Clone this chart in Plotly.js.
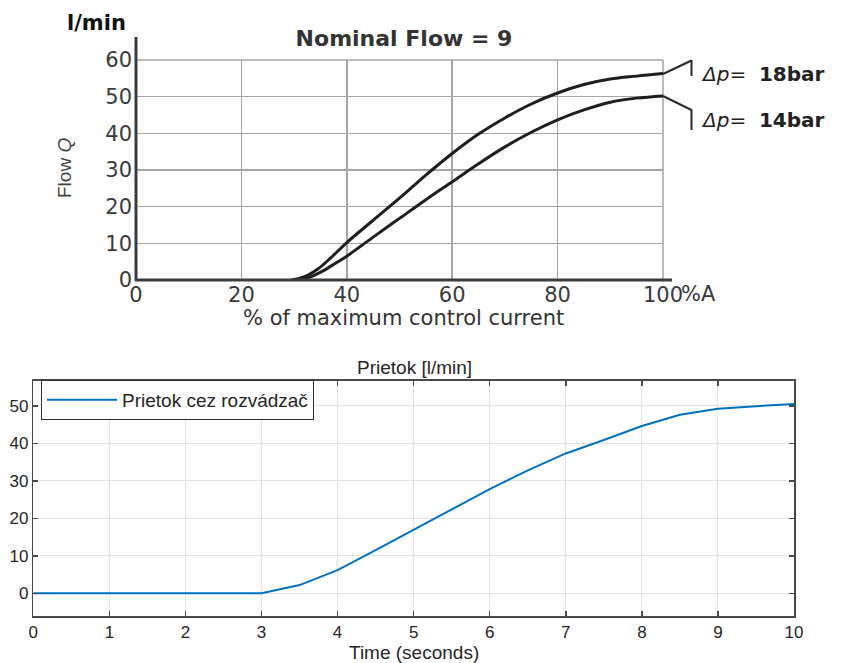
<!DOCTYPE html>
<html>
<head>
<meta charset="utf-8">
<script src="https://cdn.plot.ly/plotly-3.0.1.min.js"></script>
<style>html,body{margin:0;padding:0;background:#fff;}</style>
</head>
<body>
<div id="chart" style="width:842px;height:663px;"></div>
<script>
// ---------- Data: top chart (valve characteristic) ----------
const current18 = [29.5, 32, 34.5, 37, 40, 45, 50, 55, 60, 65, 70, 75, 80, 85, 90, 95, 100];
const flow18    = [0, 0.9, 3.0, 6.1, 10.2, 16.3, 22.3, 28.6, 34.5, 39.8, 44.2, 48.0, 51.0, 53.3, 54.8, 55.6, 56.3];
const current14 = [30.5, 33, 35.5, 38, 40, 45, 50, 55, 60, 65, 70, 75, 80, 85, 90, 95, 100];
const flow14    = [0, 0.8, 2.5, 4.7, 6.5, 11.7, 16.8, 21.9, 26.8, 31.7, 36.3, 40.3, 43.7, 46.4, 48.5, 49.6, 50.2];
const topXTickVals = [0, 20, 40, 60, 80, 100];
const topXTickText = ['0', '20', '40', '60', '80', '100'];
const topYTickVals = [0, 10, 20, 30, 40, 50, 60];
const curveLabels = ['18bar', '14bar'];

// ---------- Data: bottom chart (simulation) ----------
const timeSec = [0, 0.5, 1, 1.5, 2, 2.5, 3, 3.5, 4, 4.5, 5, 5.5, 6, 6.5, 7, 7.5, 8, 8.5, 9, 9.5, 10];
const prietok = [0, 0, 0, 0, 0, 0, 0, 2.2, 6.2, 11.5, 16.9, 22.4, 27.8, 32.8, 37.3, 40.9, 44.6, 47.6, 49.2, 49.9, 50.5];
const botXTickVals = [0, 1, 2, 3, 4, 5, 6, 7, 8, 9, 10];
const botYTickVals = [0, 10, 20, 30, 40, 50];

// pixel -> paper helpers (margins are zero, so paper = whole figure)
const W = 842, H = 663;
const px = x => x / W;
const py = y => 1 - y / H;

const dv = 'DejaVu Sans, Verdana, sans-serif';
const ar = 'Liberation Sans, Arial, Helvetica, sans-serif';
const gridTop = '#a6a6a6';

const traces = [
  {x: current18, y: flow18, type: 'scatter', mode: 'lines', xaxis: 'x', yaxis: 'y',
   line: {color: '#1e1e1e', width: 3, shape: 'spline', smoothing: 1}, showlegend: false, name: curveLabels[0]},
  {x: current14, y: flow14, type: 'scatter', mode: 'lines', xaxis: 'x', yaxis: 'y',
   line: {color: '#1e1e1e', width: 3, shape: 'spline', smoothing: 1}, showlegend: false, name: curveLabels[1]},
  {x: timeSec, y: prietok, type: 'scatter', mode: 'lines', xaxis: 'x2', yaxis: 'y2',
   line: {color: '#0072BD', width: 2}, name: 'Prietok cez rozvádzač', showlegend: true}
];

const layout = {
  width: W, height: H,
  margin: {l: 0, r: 0, t: 0, b: 0},
  paper_bgcolor: '#ffffff', plot_bgcolor: '#ffffff',
  title: {text: '<b>Nominal Flow = 9</b>', font: {family: dv, size: 22, color: '#333333'},
          x: px(404), y: py(38), xanchor: 'center', yanchor: 'middle', xref: 'paper', yref: 'paper'},
  xaxis: {domain: [px(136), px(663)], range: [0, 100], anchor: 'y',
          tickmode: 'array', tickvals: topXTickVals, ticktext: topXTickText,
          showgrid: true, gridcolor: gridTop, gridwidth: 1.5, zeroline: false, showline: false,
          ticks: '', tickfont: {family: dv, size: 21, color: '#3a3a3a'}, ticklabelstandoff: 0, fixedrange: true},
  yaxis: {domain: [py(280), py(60)], range: [0, 60], anchor: 'x',
          tickmode: 'array', tickvals: topYTickVals,
          showgrid: true, gridcolor: gridTop, gridwidth: 1.5, zeroline: false, showline: false,
          ticks: '', tickfont: {family: dv, size: 21, color: '#3a3a3a'}, ticklabelstandoff: 3, fixedrange: true},
  xaxis2: {domain: [px(33.3), px(794)], range: [0, 10], anchor: 'y2',
           tickmode: 'array', tickvals: botXTickVals,
           showgrid: true, gridcolor: '#e4e4e4', gridwidth: 1, zeroline: false,
           showline: true, mirror: 'ticks', linecolor: '#4a4a4a', linewidth: 1.5,
           ticks: 'inside', ticklen: 5, tickcolor: '#4a4a4a', tickwidth: 1.5,
           tickfont: {family: ar, size: 17, color: '#262626'}, fixedrange: true},
  yaxis2: {domain: [py(616), py(380.7)], range: [-6.05, 56.7], anchor: 'x2',
           tickmode: 'array', tickvals: botYTickVals,
           showgrid: true, gridcolor: '#e4e4e4', gridwidth: 1, zeroline: false,
           showline: true, mirror: 'ticks', linecolor: '#4a4a4a', linewidth: 1.5,
           ticks: 'inside', ticklen: 5, tickcolor: '#4a4a4a', tickwidth: 1.5,
           tickfont: {family: ar, size: 17, color: '#262626'}, fixedrange: true},
  showlegend: true,
  legend: {x: px(41), y: py(380), xanchor: 'left', yanchor: 'top', xref: 'paper', yref: 'paper',
           bgcolor: '#ffffff', bordercolor: '#333333', borderwidth: 1, itemwidth: 70,
           font: {family: ar, size: 19, color: '#262626'}, tracegroupgap: 0},
  shapes: [
    // top chart: gridlines on the outer edges (right at 100 %, top at 60 l/min)
    {type: 'line', xref: 'paper', yref: 'paper', x0: px(663), x1: px(663), y0: py(280), y1: py(60),
     line: {color: gridTop, width: 1.5}, layer: 'below'},
    {type: 'line', xref: 'paper', yref: 'paper', x0: px(136), x1: px(663), y0: py(60), y1: py(60),
     line: {color: gridTop, width: 1.5}, layer: 'below'},
    // top chart axis lines (extend beyond the grid like the original figure)
    {type: 'line', xref: 'paper', yref: 'paper', x0: px(136), x1: px(136), y0: py(281), y1: py(37),
     line: {color: '#3c3c3c', width: 3}},
    {type: 'line', xref: 'paper', yref: 'paper', x0: px(135), x1: px(672), y0: py(280), y1: py(280),
     line: {color: '#3c3c3c', width: 3}},
    // leader lines for the curve labels
    {type: 'line', xref: 'paper', yref: 'paper', x0: px(663), y0: py(74), x1: px(691.5), y1: py(60.5),
     line: {color: '#2a2a2a', width: 2}},
    {type: 'line', xref: 'paper', yref: 'paper', x0: px(691.5), y0: py(60), x1: px(691.5), y1: py(76),
     line: {color: '#2a2a2a', width: 2}},
    {type: 'line', xref: 'paper', yref: 'paper', x0: px(663), y0: py(96), x1: px(691.5), y1: py(110),
     line: {color: '#2a2a2a', width: 2}},
    {type: 'line', xref: 'paper', yref: 'paper', x0: px(691.5), y0: py(109.5), x1: px(691.5), y1: py(130),
     line: {color: '#2a2a2a', width: 2}}
  ],
  annotations: [
    {text: '<b>l/min</b>', xref: 'paper', yref: 'paper', x: px(96), y: py(23), xanchor: 'center', yanchor: 'middle',
     showarrow: false, font: {family: dv, size: 21, color: '#111111'}},
    {text: 'Flow <i>Q</i>', xref: 'paper', yref: 'paper', x: px(64), y: py(168), xanchor: 'center', yanchor: 'middle',
     textangle: -90, showarrow: false, font: {family: ar, size: 19, color: '#444444'}},
    {text: '% of maximum control current', xref: 'paper', yref: 'paper', x: px(403), y: py(318),
     xanchor: 'center', yanchor: 'middle', showarrow: false, font: {family: dv, size: 21, color: '#333333'}},
    {text: '%A', xref: 'paper', yref: 'paper', x: px(679), y: py(294), xanchor: 'left', yanchor: 'middle',
     showarrow: false, font: {family: dv, size: 21, color: '#3a3a3a'}},
    {text: '<i>Δp</i>=  <b>' + curveLabels[0] + '</b>', xref: 'paper', yref: 'paper', x: px(699), y: py(74),
     xanchor: 'left', yanchor: 'middle', showarrow: false, font: {family: dv, size: 20, color: '#222222'}},
    {text: '<i>Δp</i>=  <b>' + curveLabels[1] + '</b>', xref: 'paper', yref: 'paper', x: px(699), y: py(120),
     xanchor: 'left', yanchor: 'middle', showarrow: false, font: {family: dv, size: 20, color: '#222222'}},
    {text: 'Prietok [l/min]', xref: 'paper', yref: 'paper', x: px(414), y: py(367), xanchor: 'center', yanchor: 'middle',
     showarrow: false, font: {family: ar, size: 19, color: '#262626'}},
    {text: 'Time (seconds)', xref: 'paper', yref: 'paper', x: px(414), y: py(652), xanchor: 'center', yanchor: 'middle',
     showarrow: false, font: {family: ar, size: 19, color: '#262626'}}
  ]
};

Plotly.newPlot('chart', traces, layout, {displayModeBar: false, staticPlot: true});
</script>
</body>
</html>
